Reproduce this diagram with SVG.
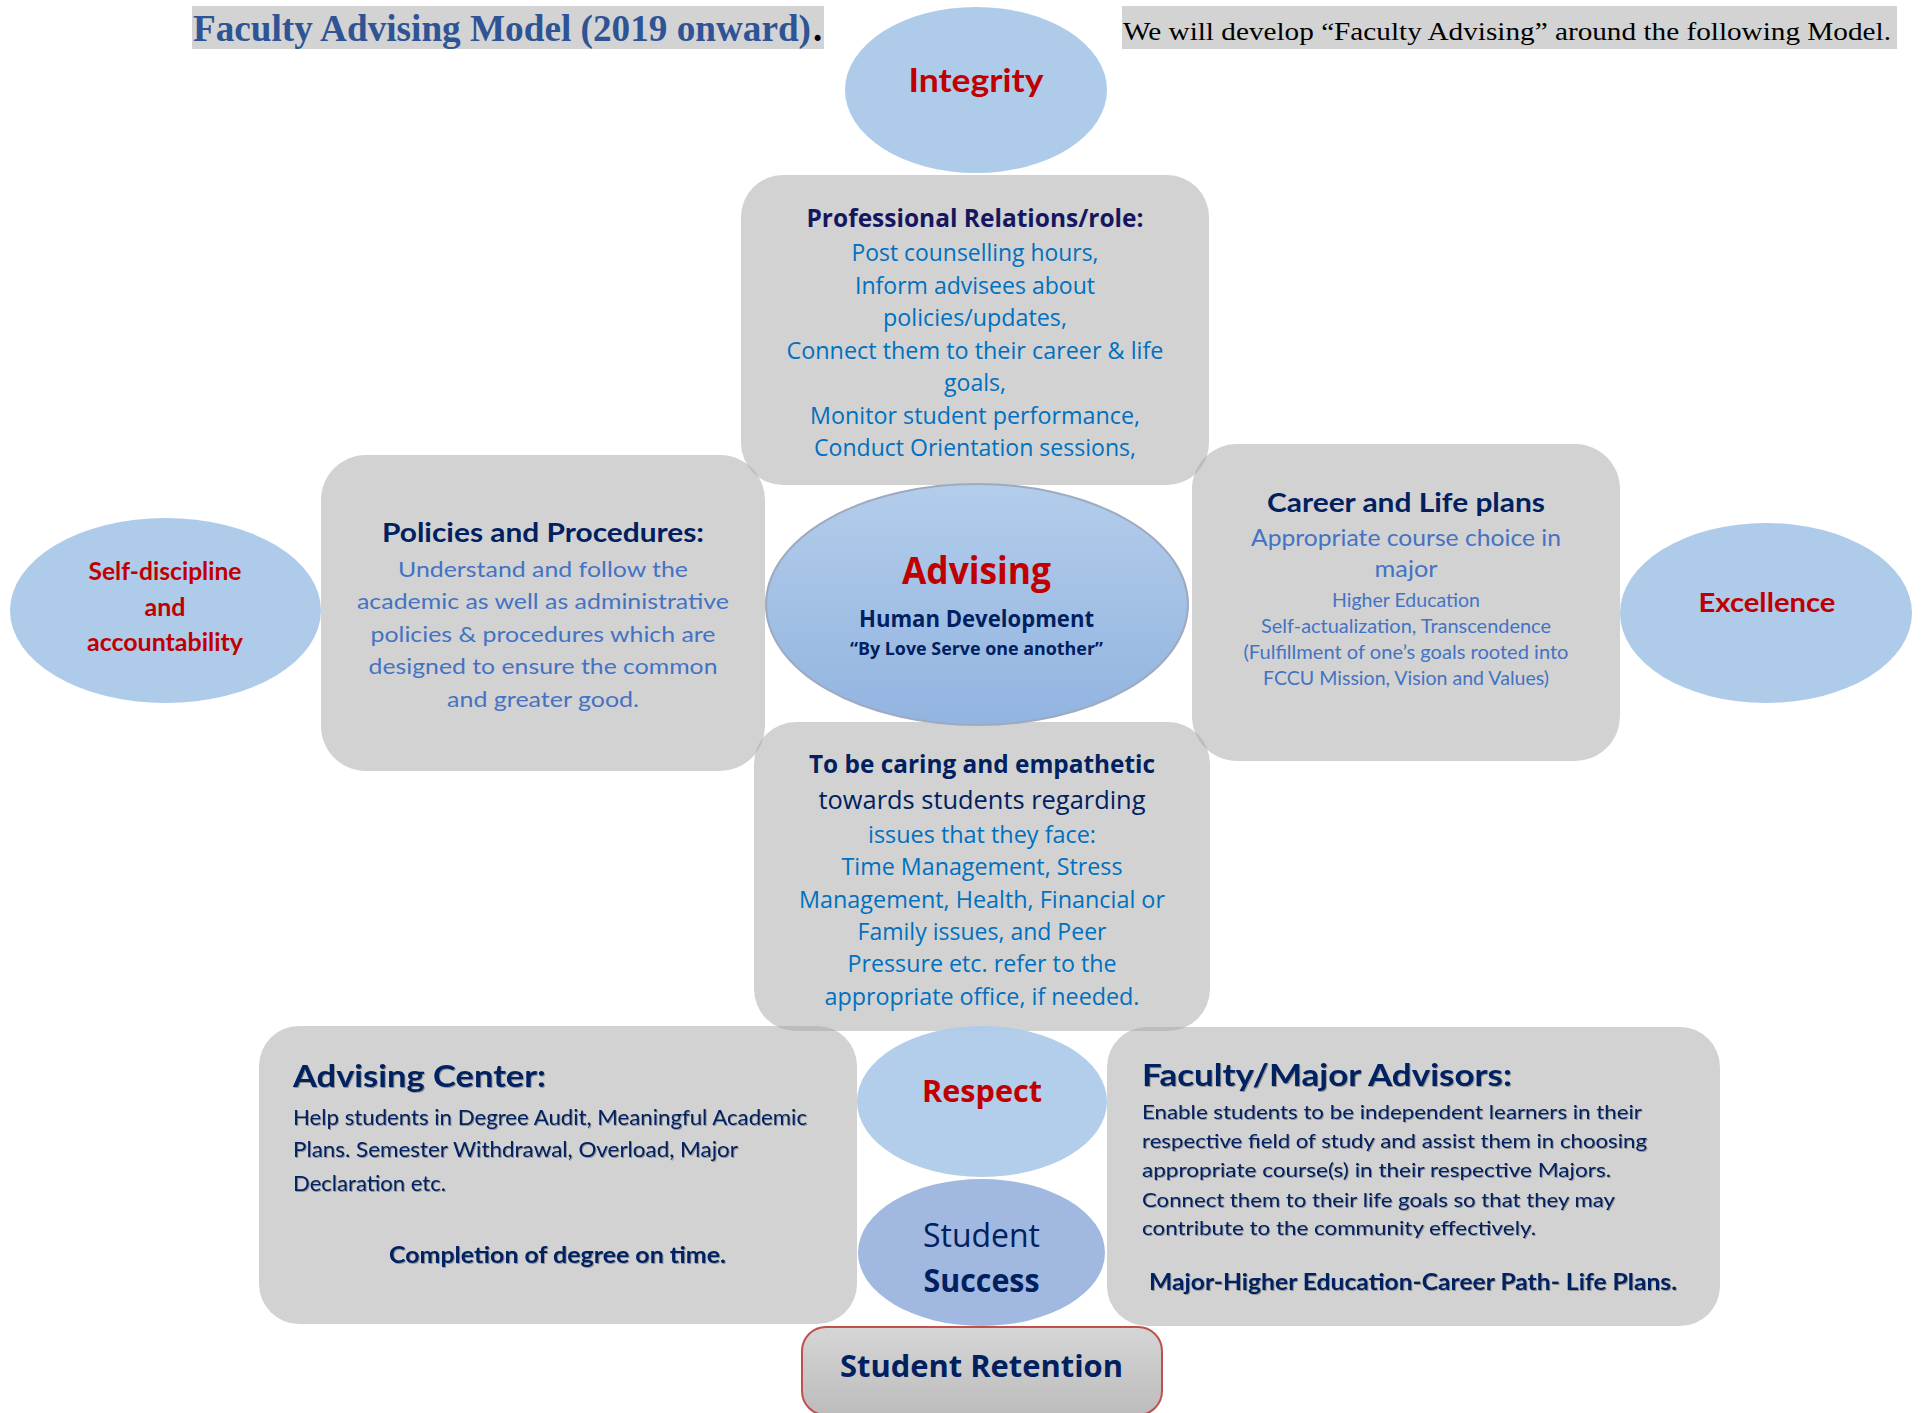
<svg xmlns="http://www.w3.org/2000/svg" width="1925" height="1413" viewBox="0 0 1925 1413">
<defs>
<style>
.box{fill:#a6a6a6;fill-opacity:0.5}
.ell{fill:#aecbea}
.seg{font-family:"Open Sans","Noto Sans",sans-serif}
.cal{font-family:Lato,"Liberation Sans",sans-serif}
.b{font-weight:bold}
.red{fill:#c00000}
.navy{fill:#002060}
.indigo{fill:#161660}
.blue1{fill:#0070c0}
.blue2{fill:#4472c4}
.mid{text-anchor:middle}
.sh{filter:url(#ts)}
</style>
<linearGradient id="advGrad" x1="0" y1="0" x2="0" y2="1">
<stop offset="0" stop-color="#b3cdeb"/>
<stop offset="1" stop-color="#92b4e0"/>
</linearGradient>
<linearGradient id="retGrad" x1="0" y1="0" x2="0" y2="1">
<stop offset="0" stop-color="#d6d6d6"/>
<stop offset="1" stop-color="#bcbcbc"/>
</linearGradient>
<filter id="ts" x="-5%" y="-20%" width="110%" height="140%">
<feDropShadow dx="1" dy="1" stdDeviation="0.6" flood-color="#000" flood-opacity="0.3"/>
</filter>
</defs>
<rect width="1925" height="1413" fill="#ffffff"/>

<g id="title">
<rect x="192" y="6" width="632" height="43" fill="#d3d3d3"/>
<text x="193" y="41" font-family="'Liberation Serif',serif" font-weight="bold" font-size="37" fill="#2f5496" textLength="618" lengthAdjust="spacingAndGlyphs">Faculty Advising Model (2019 onward)</text>
<text x="813" y="41" font-family="'Liberation Serif',serif" font-weight="bold" font-size="37" fill="#000000">.</text>
</g>
<g id="intro">
<rect x="1122" y="6" width="775" height="43" fill="#d3d3d3"/>
<text x="1123" y="40" font-family="'Liberation Serif',serif" font-size="25" fill="#000000" textLength="768" lengthAdjust="spacingAndGlyphs">We will develop “Faculty Advising” around the following Model.</text>
</g>

<g id="connectors"></g>

<g id="professional">
<rect class="box" x="741" y="175" width="468" height="310" rx="42"/>
<text class="seg b indigo mid" x="975" y="227" font-size="25" textLength="337" lengthAdjust="spacingAndGlyphs">Professional Relations/role:</text>
<g class="seg blue1 mid" font-size="23">
<text x="975" y="261" textLength="247" lengthAdjust="spacingAndGlyphs">Post counselling hours,</text>
<text x="975" y="294" textLength="240" lengthAdjust="spacingAndGlyphs">Inform advisees about</text>
<text x="975" y="326" textLength="184" lengthAdjust="spacingAndGlyphs">policies/updates,</text>
<text x="975" y="359" textLength="377" lengthAdjust="spacingAndGlyphs">Connect them to their career &amp; life</text>
<text x="975" y="391" textLength="62" lengthAdjust="spacingAndGlyphs">goals,</text>
<text x="975" y="424" textLength="330" lengthAdjust="spacingAndGlyphs">Monitor student performance,</text>
<text x="975" y="456" textLength="322" lengthAdjust="spacingAndGlyphs">Conduct Orientation sessions,</text>
</g>
</g>

<g id="integrity">
<ellipse class="ell" cx="976" cy="90" rx="131" ry="83"/>
<text class="cal b red mid" x="976" y="92" font-size="33" textLength="135" lengthAdjust="spacingAndGlyphs">Integrity</text>
</g>

<g id="policies">
<rect class="box" x="321" y="455" width="444" height="316" rx="45"/>
<text class="cal b navy mid" x="543" y="542" font-size="26" textLength="322" lengthAdjust="spacingAndGlyphs">Policies and Procedures:</text>
<g class="cal blue2 mid" font-size="22">
<text x="543" y="577" textLength="290" lengthAdjust="spacingAndGlyphs">Understand and follow the</text>
<text x="543" y="609" textLength="372" lengthAdjust="spacingAndGlyphs">academic as well as administrative</text>
<text x="543" y="642" textLength="345" lengthAdjust="spacingAndGlyphs">policies &amp; procedures which are</text>
<text x="543" y="674" textLength="349" lengthAdjust="spacingAndGlyphs">designed to ensure the common</text>
<text x="543" y="707" textLength="192" lengthAdjust="spacingAndGlyphs">and greater good.</text>
</g>
</g>

<g id="self-discipline">
<ellipse class="ell" cx="165.5" cy="610.5" rx="155.5" ry="92.5"/>
<g class="cal b red mid" font-size="24">
<text x="165" y="580" textLength="153" lengthAdjust="spacingAndGlyphs">Self-discipline</text>
<text x="165" y="616" textLength="41" lengthAdjust="spacingAndGlyphs">and</text>
<text x="165" y="651" textLength="156" lengthAdjust="spacingAndGlyphs">accountability</text>
</g>
</g>

<g id="career">
<rect class="box" x="1192" y="444" width="428" height="317" rx="45"/>
<text class="cal b navy mid" x="1406" y="512" font-size="26" textLength="278" lengthAdjust="spacingAndGlyphs">Career and Life plans</text>
<g class="cal blue2 mid">
<text x="1406" y="546" font-size="23" textLength="310" lengthAdjust="spacingAndGlyphs">Appropriate course choice in</text>
<text x="1406" y="577" font-size="23" textLength="63" lengthAdjust="spacingAndGlyphs">major</text>
<text x="1406" y="607" font-size="19" textLength="148" lengthAdjust="spacingAndGlyphs">Higher Education</text>
<text x="1406" y="633" font-size="19" textLength="290" lengthAdjust="spacingAndGlyphs">Self-actualization, Transcendence</text>
<text x="1406" y="659" font-size="19" textLength="325" lengthAdjust="spacingAndGlyphs">(Fulfillment of one’s goals rooted into</text>
<text x="1406" y="685" font-size="19" textLength="286" lengthAdjust="spacingAndGlyphs">FCCU Mission, Vision and Values)</text>
</g>
</g>

<g id="excellence">
<ellipse class="ell" cx="1766" cy="613" rx="146" ry="90"/>
<text class="cal b red mid" x="1767" y="612" font-size="27" textLength="137" lengthAdjust="spacingAndGlyphs">Excellence</text>
</g>

<g id="caring">
<rect class="box" x="754" y="722" width="456" height="309" rx="42"/>
<text class="seg b navy mid" x="982" y="773" font-size="25" textLength="346" lengthAdjust="spacingAndGlyphs">To be caring and empathetic</text>
<text class="seg navy mid" x="982" y="809" font-size="25" textLength="327" lengthAdjust="spacingAndGlyphs">towards students regarding</text>
<g class="seg blue1 mid" font-size="23">
<text x="982" y="843" textLength="228" lengthAdjust="spacingAndGlyphs">issues that they face:</text>
<text x="982" y="875" textLength="281" lengthAdjust="spacingAndGlyphs">Time Management, Stress</text>
<text x="982" y="908" textLength="366" lengthAdjust="spacingAndGlyphs">Management, Health, Financial or</text>
<text x="982" y="940" textLength="249" lengthAdjust="spacingAndGlyphs">Family issues, and Peer</text>
<text x="982" y="972" textLength="269" lengthAdjust="spacingAndGlyphs">Pressure etc. refer to the</text>
<text x="982" y="1005" textLength="315" lengthAdjust="spacingAndGlyphs">appropriate office, if needed.</text>
</g>
</g>

<g id="advising">
<ellipse cx="977" cy="604.5" rx="211" ry="120.5" fill="url(#advGrad)" stroke="#9eaac0" stroke-width="2"/>
<text class="seg b red mid" x="976.5" y="584" font-size="37" textLength="149" lengthAdjust="spacingAndGlyphs">Advising</text>
<text class="seg b navy mid" x="976.5" y="627" font-size="23" textLength="235" lengthAdjust="spacingAndGlyphs">Human Development</text>
<text class="seg b navy mid" x="976.5" y="655" font-size="17" textLength="253" lengthAdjust="spacingAndGlyphs">“By Love Serve one another”</text>
</g>

<g id="advising-center">
<rect class="box" x="259" y="1026" width="598" height="298" rx="40"/>
<g class="cal navy sh">
<text class="b" x="293" y="1087" font-size="30" textLength="253" lengthAdjust="spacingAndGlyphs">Advising Center:</text>
<text x="293" y="1125" font-size="21" textLength="514" lengthAdjust="spacingAndGlyphs">Help students in Degree Audit, Meaningful Academic</text>
<text x="293" y="1157" font-size="21" textLength="445" lengthAdjust="spacingAndGlyphs">Plans. Semester Withdrawal, Overload, Major</text>
<text x="293" y="1191" font-size="21" textLength="153" lengthAdjust="spacingAndGlyphs">Declaration etc.</text>
<text class="b" x="389" y="1263" font-size="23" textLength="337" lengthAdjust="spacingAndGlyphs">Completion of degree on time.</text>
</g>
</g>

<g id="faculty-advisors">
<rect class="box" x="1107" y="1027" width="613" height="299" rx="40"/>
<g class="cal navy sh">
<text class="b" x="1142" y="1086" font-size="30" textLength="370" lengthAdjust="spacingAndGlyphs">Faculty/Major Advisors:</text>
<text x="1142" y="1119" font-size="20" textLength="500" lengthAdjust="spacingAndGlyphs">Enable students to be independent learners in their</text>
<text x="1142" y="1148" font-size="20" textLength="505" lengthAdjust="spacingAndGlyphs">respective field of study and assist them in choosing</text>
<text x="1142" y="1177" font-size="20" textLength="469" lengthAdjust="spacingAndGlyphs">appropriate course(s) in their respective Majors.</text>
<text x="1142" y="1207" font-size="20" textLength="473" lengthAdjust="spacingAndGlyphs">Connect them to their life goals so that they may</text>
<text x="1142" y="1235" font-size="20" textLength="394" lengthAdjust="spacingAndGlyphs">contribute to the community effectively.</text>
<text class="b" x="1149" y="1290" font-size="22" textLength="528" lengthAdjust="spacingAndGlyphs">Major-Higher Education-Career Path- Life Plans.</text>
</g>
</g>

<g id="respect">
<ellipse class="ell" cx="982" cy="1101.5" rx="125" ry="75.5" fill-opacity="0.95"/>
<text class="seg b red mid" x="982" y="1102" font-size="30" textLength="120" lengthAdjust="spacingAndGlyphs">Respect</text>
</g>

<g id="student-success">
<ellipse cx="981.5" cy="1252.5" rx="123.5" ry="73.5" fill="#a1b8e1"/>
<text class="seg navy mid" x="981.5" y="1247" font-size="32" textLength="117" lengthAdjust="spacingAndGlyphs">Student</text>
<text class="seg b navy mid" x="981.5" y="1292" font-size="32" textLength="116" lengthAdjust="spacingAndGlyphs">Success</text>
</g>

<g id="student-retention">
<rect x="802" y="1327" width="360" height="88" rx="24" fill="url(#retGrad)" stroke="#c0504d" stroke-width="2"/>
<text class="seg b navy mid" x="981.5" y="1377" font-size="30" textLength="283" lengthAdjust="spacingAndGlyphs">Student Retention</text>
</g>
</svg>
